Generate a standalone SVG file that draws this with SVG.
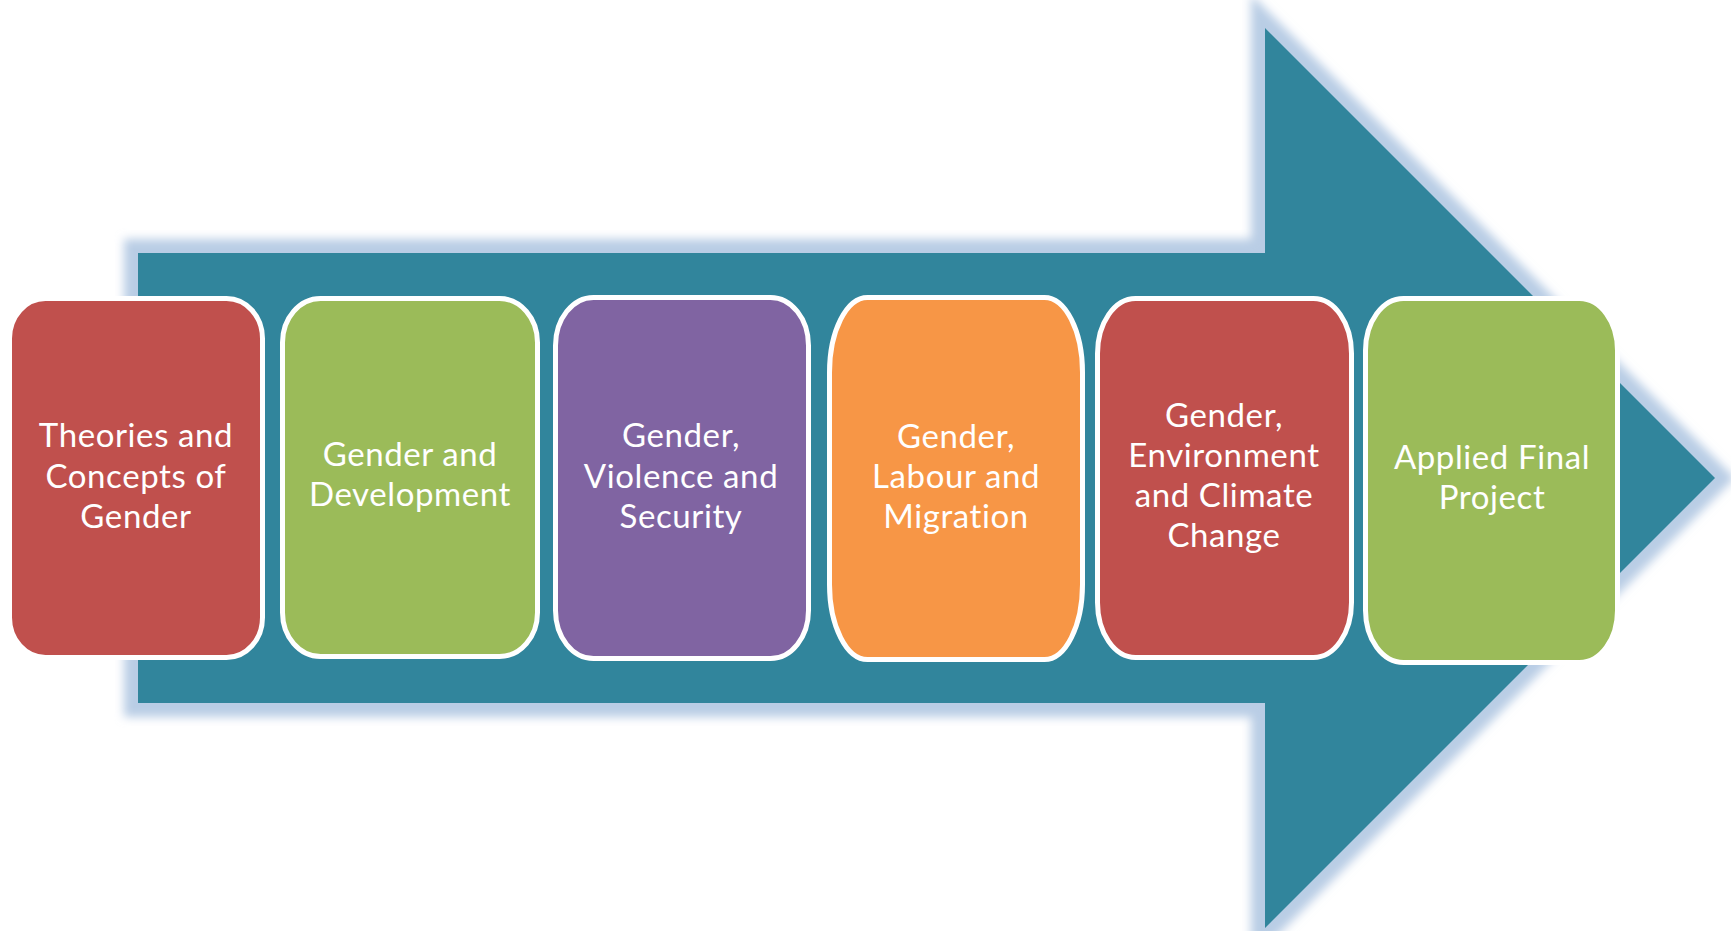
<svg xmlns="http://www.w3.org/2000/svg" width="1731" height="931" viewBox="0 0 1731 931">
  <defs>
    <filter id="glow" x="-10%" y="-10%" width="120%" height="120%">
      <feGaussianBlur stdDeviation="5"/>
    </filter>
    <style>
      .box { stroke: #ffffff; stroke-width: 5; }
      .lbl { font-family: Lato, "Open Sans", "Liberation Sans", sans-serif; font-size: 33px; letter-spacing: 0.6px; font-variant-ligatures: none; fill: #ffffff; text-anchor: middle; }
    </style>
  </defs>
  <rect width="1731" height="931" fill="#ffffff"/>
  <g id="connectors">
    <polygon points="138,253 1265,253 1265,28 1715,478 1265,928 1265,703 138,703" fill="#b9cde5" stroke="#b9cde5" stroke-width="28" stroke-linejoin="miter" filter="url(#glow)"/>
    <polygon id="arrow" points="138,253 1265,253 1265,28 1715,478 1265,928 1265,703 138,703" fill="#31859c"/>
  </g>
  <g id="node1">
    <rect class="box" x="9.5" y="298.5" width="253" height="359" rx="36" ry="40" fill="#c0504d"/>
    <text class="lbl" x="136" y="447">Theories and</text>
    <text class="lbl" x="136" y="488">Concepts of</text>
    <text class="lbl" x="136" y="528">Gender</text>
  </g>
  <g id="node2">
    <rect class="box" x="282.5" y="298.5" width="255" height="358" rx="38" ry="44" fill="#9bbb59"/>
    <text class="lbl" x="410" y="466">Gender and</text>
    <text class="lbl" x="410" y="506">Development</text>
  </g>
  <g id="node3">
    <rect class="box" x="555.5" y="297.5" width="253" height="361" rx="38" ry="48" fill="#8064a2"/>
    <text class="lbl" x="681" y="447">Gender,</text>
    <text class="lbl" x="681" y="488">Violence and</text>
    <text class="lbl" x="681" y="528">Security</text>
  </g>
  <g id="node4">
    <rect class="box" x="829.5" y="297.5" width="253" height="362" rx="38" ry="75" fill="#f79646"/>
    <text class="lbl" x="956" y="448">Gender,</text>
    <text class="lbl" x="956" y="488">Labour and</text>
    <text class="lbl" x="956" y="528">Migration</text>
  </g>
  <g id="node5">
    <rect class="box" x="1097.5" y="298.5" width="254" height="359" rx="38" ry="55" fill="#c0504d"/>
    <text class="lbl" x="1224" y="427">Gender,</text>
    <text class="lbl" x="1224" y="467">Environment</text>
    <text class="lbl" x="1224" y="507">and Climate</text>
    <text class="lbl" x="1224" y="547">Change</text>
  </g>
  <g id="node6">
    <rect class="box" x="1365.5" y="298.5" width="252" height="364" rx="38" ry="52" fill="#9bbb59"/>
    <text class="lbl" x="1492" y="469">Applied Final</text>
    <text class="lbl" x="1492" y="509">Project</text>
  </g>
</svg>
